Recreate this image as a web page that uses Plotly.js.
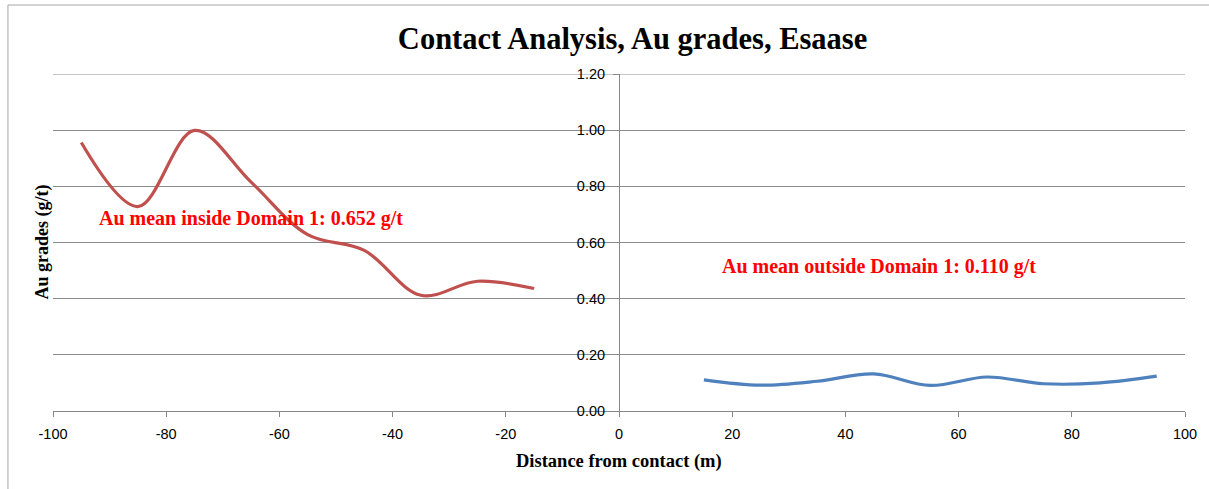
<!DOCTYPE html>
<html>
<head>
<meta charset="utf-8">
<script src="https://cdn.plot.ly/plotly-3.0.1.min.js"></script>
<style>html,body{margin:0;padding:0;background:#fff;}#chart{width:1209px;height:489px;}</style>
</head>
<body>
<div id="chart"></div>
<script>
const insideDistance = [-95, -85, -75, -65, -55, -45, -35, -25, -15];
const insideGrade = [0.956, 0.728, 0.999, 0.815, 0.628, 0.572, 0.412, 0.462, 0.436];
const outsideDistance = [15, 25, 35, 45, 55, 65, 75, 85, 95];
const outsideGrade = [0.111, 0.092, 0.106, 0.132, 0.091, 0.121, 0.097, 0.100, 0.124];
const yTicks = [0, 0.2, 0.4, 0.6, 0.8, 1.0, 1.2];
const xTicks = [-100, -80, -60, -40, -20, 0, 20, 40, 60, 80, 100];

const serif = "'Liberation Serif', 'Times New Roman', serif";
const sans = "'Liberation Sans', Arial, sans-serif";

const traces = [
  {x: insideDistance, y: insideGrade, type: 'scatter', mode: 'lines',
   line: {color: '#C0504D', width: 3.2, shape: 'spline', smoothing: 1}, showlegend: false, hoverinfo: 'skip'},
  {x: outsideDistance, y: outsideGrade, type: 'scatter', mode: 'lines',
   line: {color: '#4F81BD', width: 3.2, shape: 'spline', smoothing: 1}, showlegend: false, hoverinfo: 'skip'}
];

const layout = {
  width: 1209, height: 489,
  margin: {l: 53, r: 24, t: 74, b: 78},
  paper_bgcolor: '#fff', plot_bgcolor: '#fff',
  title: {text: '<b>Contact Analysis, Au grades, Esaase</b>', font: {family: serif, size: 30.5, color: '#000'},
          x: 0.512, xref: 'paper', xanchor: 'center', y: 0.922, yref: 'container', yanchor: 'middle'},
  xaxis: {range: [-100, 100], tickvals: xTicks, ticktext: xTicks.map(String), showgrid: false, zeroline: false,
          showline: true, linecolor: '#888', linewidth: 1, ticks: 'outside', ticklen: 5, tickcolor: '#888',
          ticklabelstandoff: 5,
          tickfont: {family: sans, size: 14.5, color: '#000'}, fixedrange: true},
  yaxis: {range: [0, 1.2], tickvals: yTicks, ticktext: yTicks.map(v => v.toFixed(2)), anchor: 'free', position: 0.5,
          side: 'left', showgrid: true, gridcolor: '#8c8c8c', gridwidth: 1, zeroline: false,
          showline: true, linecolor: '#888', linewidth: 1, ticks: 'outside', ticklen: 6, tickcolor: '#888',
          ticklabelstandoff: 5,
          tickfont: {family: sans, size: 14.5, color: '#000'}, fixedrange: true},
  annotations: [
    {text: '<b>Au mean inside Domain 1: 0.652 g/t</b>', x: -92.2, y: 0.687, xref: 'x', yref: 'y',
     xanchor: 'left', yanchor: 'middle', showarrow: false, font: {family: serif, size: 20, color: '#FF0000'}},
    {text: '<b>Au mean outside Domain 1: 0.110 g/t</b>', x: 17.9, y: 0.513, xref: 'x', yref: 'y',
     xanchor: 'left', yanchor: 'middle', showarrow: false, font: {family: serif, size: 20, color: '#FF0000'}},
    {text: '<b>Au grades (g/t)</b>', x: -0.0097, y: 0.5, xref: 'paper', yref: 'paper', textangle: -90,
     xanchor: 'center', yanchor: 'middle', showarrow: false, font: {family: serif, size: 18, color: '#000'}},
    {text: '<b>Distance from contact (m)</b>', x: 0.5, y: -0.15, xref: 'paper', yref: 'paper',
     xanchor: 'center', yanchor: 'middle', showarrow: false, font: {family: serif, size: 18.5, color: '#000'}}
  ],
  shapes: [
    {type: 'line', xref: 'paper', yref: 'y', x0: 0, x1: 1, y0: 1.2, y1: 1.2,
     line: {color: '#8c8c8c', width: 1}, layer: 'below'},
    {type: 'line', xref: 'paper', yref: 'paper', x0: -0.0398, x1: -0.0398, y0: 1.2047, y1: -0.24,
     line: {color: '#a6a6a6', width: 1}},
    {type: 'line', xref: 'paper', yref: 'paper', x0: -0.0398, x1: 1.03, y0: 1.2047, y1: 1.2047,
     line: {color: '#a6a6a6', width: 1}}
  ]
};

Plotly.newPlot('chart', traces, layout, {staticPlot: true, displayModeBar: false});
</script>
</body>
</html>
